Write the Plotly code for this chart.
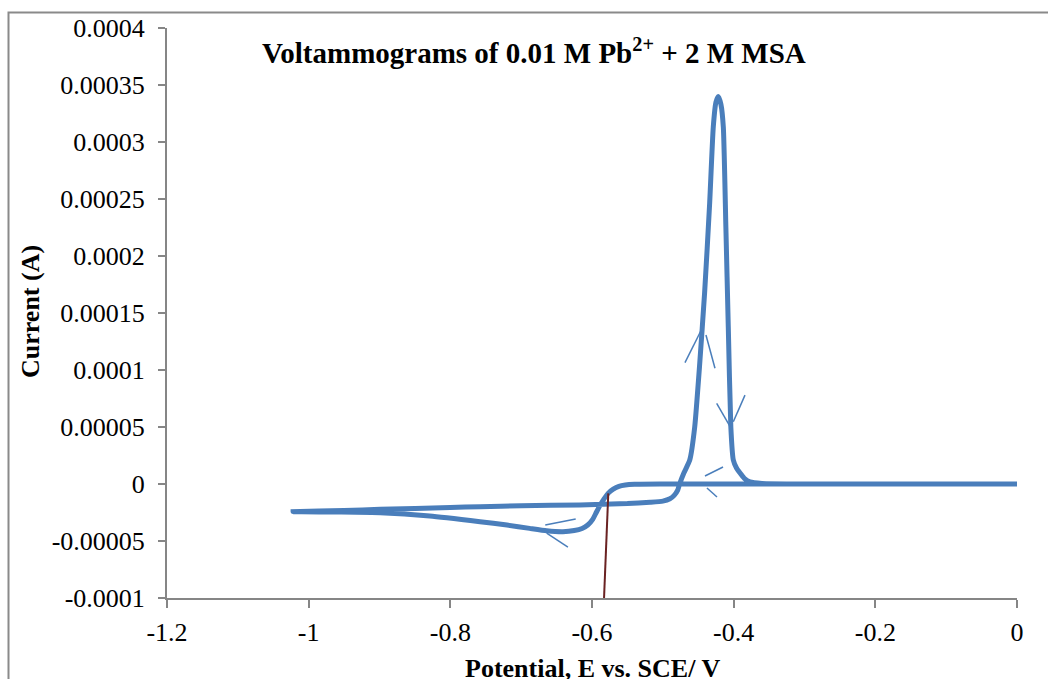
import plotly.graph_objects as go

# ---- data ----
# cathodic (forward) scan: 0 V -> -1.022 V
fwd_x = [0, -0.30, -0.50, -0.540, -0.553, -0.562, -0.570, -0.577, -0.583, -0.589,
         -0.594, -0.599, -0.606, -0.614, -0.625, -0.641, -0.664, -0.688, -0.720,
         -0.758, -0.829, -0.899, -0.960, -1.022]
fwd_y = [0, 0, 0, -0.0000002, -0.0000008, -0.000002, -0.0000045, -0.000008, -0.000013,
         -0.000019, -0.000025, -0.000031, -0.000036, -0.000039, -0.0000408, -0.0000418,
         -0.000041, -0.0000389, -0.000036, -0.0000331, -0.0000281, -0.0000252,
         -0.0000246, -0.0000243]
# anodic (reverse) scan: -1.022 V -> 0 V
rev_x = [-1.022, -0.95, -0.899, -0.80, -0.758, -0.70, -0.617, -0.55, -0.518, -0.500,
         -0.490, -0.484, -0.479, -0.476, -0.470, -0.462, -0.455, -0.448, -0.441, -0.434,
         -0.4288, -0.425, -0.4217, -0.418, -0.4146, -0.411, -0.4076, -0.404, -0.4005,
         -0.396, -0.391, -0.385, -0.377, -0.36, -0.30, 0]
rev_y = [-0.0000243, -0.0000232, -0.0000222, -0.0000206, -0.0000199, -0.000019,
         -0.0000184, -0.0000172, -0.0000160, -0.0000150, -0.0000130, -0.0000100,
         -0.0000053, 0.0000005, 0.000010, 0.000021, 0.00005, 0.000105, 0.000168,
         0.000245, 0.000313, 0.000335, 0.00034, 0.000333, 0.000313, 0.000225, 0.000138,
         0.00005, 0.000021, 0.000014, 0.0000096, 0.000005, 0.0000018, 0.0000005, 0, 0]

# hand-drawn direction chevrons (segment start / end)
arrow_x0 = [-0.666, -0.664, -0.4405, -0.4377, -0.4687, -0.4391, -0.424, -0.4005]
arrow_y0 = [-0.000036, -0.000043, 0.000007, -0.0000035, 0.0001064, 0.0001307, 0.0000708, 0.0000546]
arrow_x1 = [-0.623, -0.634, -0.415, -0.4235, -0.4466, -0.4264, -0.405, -0.384]
arrow_y1 = [-0.0000307, -0.0000553, 0.0000149, -0.0000114, 0.000134, 0.0001015, 0.0000503, 0.000078]

# deposition onset marker line
onset_x = [-0.577, -0.583]
onset_y = [-0.0000082, -0.0001]

x_tickvals = [-1.2, -1.0, -0.8, -0.6, -0.4, -0.2, 0]
x_ticktext = ["-1.2", "-1", "-0.8", "-0.6", "-0.4", "-0.2", "0"]
y_tickvals = [-0.0001, -0.00005, 0, 0.00005, 0.0001, 0.00015, 0.0002, 0.00025, 0.0003, 0.00035, 0.0004]
y_ticktext = ["-0.0001", "-0.00005", "0", "0.00005", "0.0001", "0.00015", "0.0002",
              "0.00025", "0.0003", "0.00035", "0.0004"]

title_text = "<b>Voltammograms of 0.01 M Pb<sup>2+</sup> + 2 M MSA</b>"
x_title = "<b>Potential, E vs. SCE/ V</b>"
y_title = "<b>Current (A)</b>"

# ---- figure ----
W, H = 1048, 679
ML, MR, MT, MB = 167, 31, 28, 81
PW, PH = W - ML - MR, H - MT - MB


def px_to_paper_x(px):
    return (px - ML) / PW


def px_to_paper_y(py):
    return (H - MB - py) / PH


BLUE = "#4a7ebb"
AXIS = "#868686"
FONT = "Liberation Serif, Times New Roman, serif"

fig = go.Figure()

fig.add_trace(go.Scatter(
    x=fwd_x + rev_x[1:], y=fwd_y + rev_y[1:], mode="lines",
    line=dict(color=BLUE, width=5, shape="spline", smoothing=0.5),
    hoverinfo="skip", showlegend=False))

ax, ay = [], []
for a, b, c, d in zip(arrow_x0, arrow_y0, arrow_x1, arrow_y1):
    ax += [a, c, None]
    ay += [b, d, None]
fig.add_trace(go.Scatter(x=ax, y=ay, mode="lines", line=dict(color=BLUE, width=1.5),
                         hoverinfo="skip", showlegend=False))

fig.add_trace(go.Scatter(x=onset_x, y=onset_y, mode="lines", line=dict(color="#6a2222", width=2),
                         hoverinfo="skip", showlegend=False))

fig.update_layout(
    width=W, height=H, autosize=False,
    margin=dict(l=ML, r=MR, t=MT, b=MB, pad=0),
    paper_bgcolor="white", plot_bgcolor="white",
    font=dict(family=FONT, size=26, color="black"),
    showlegend=False,
    xaxis=dict(range=[-1.2, 0], tickvals=x_tickvals, ticktext=x_ticktext,
               showline=True, linecolor=AXIS, linewidth=2, ticks="outside", ticklen=8,
               tickwidth=2, tickcolor=AXIS, showgrid=False, zeroline=False,
               ticklabelstandoff=2, tickfont=dict(family=FONT, size=26, color="black")),
    yaxis=dict(range=[-0.0001, 0.0004], tickvals=y_tickvals, ticktext=y_ticktext,
               showline=True, linecolor=AXIS, linewidth=2, ticks="outside", ticklen=7,
               tickwidth=2, tickcolor=AXIS, showgrid=False, zeroline=False,
               ticklabelstandoff=8, tickfont=dict(family=FONT, size=26, color="black")),
    annotations=[
        dict(text=title_text, xref="paper", yref="paper", x=px_to_paper_x(534), y=px_to_paper_y(51),
             xanchor="center", yanchor="middle", showarrow=False,
             font=dict(family=FONT, size=29, color="black")),
        dict(text=x_title, xref="paper", yref="paper", x=0.5, y=px_to_paper_y(668),
             xanchor="center", yanchor="middle", showarrow=False,
             font=dict(family=FONT, size=26, color="black")),
        dict(text=y_title, xref="paper", yref="paper", x=px_to_paper_x(30), y=px_to_paper_y(312),
             xanchor="center", yanchor="middle", showarrow=False, textangle=-90,
             font=dict(family=FONT, size=26, color="black")),
    ],
    shapes=[
        dict(type="rect", xref="paper", yref="paper",
             x0=px_to_paper_x(8.5), x1=px_to_paper_x(W + 20),
             y0=px_to_paper_y(H + 20), y1=px_to_paper_y(12.5),
             line=dict(color="#8a8a8a", width=2), fillcolor="rgba(0,0,0,0)", layer="below"),
    ],
)

fig.write_html("out.html")
